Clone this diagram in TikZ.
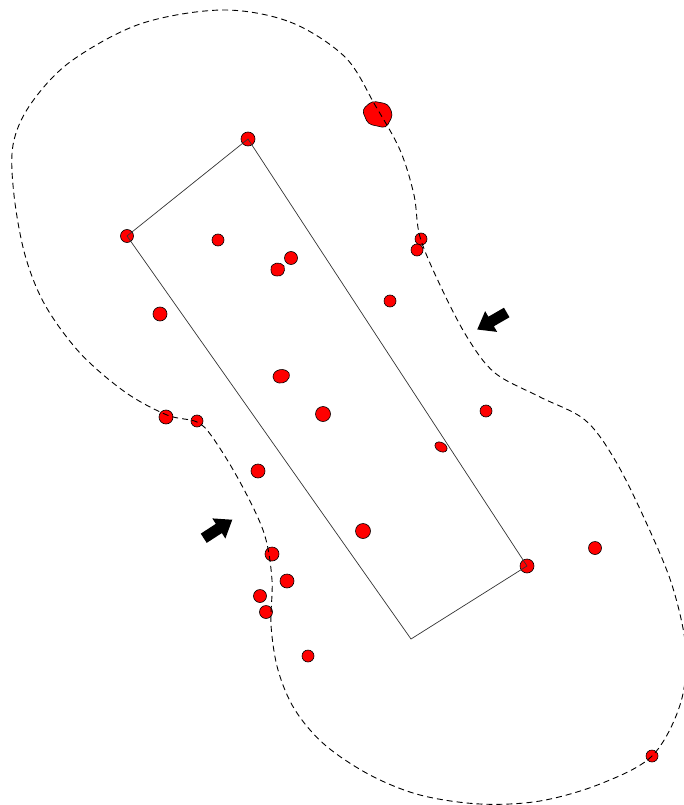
\documentclass[tikz,border=0pt]{standalone}
\begin{document}
\begin{tikzpicture}[x=1pt,y=-1pt,
  reddot/.style={circle,fill=red,draw=black,line width=0.6pt,inner sep=0pt,minimum size=#1},
  reddot/.default=12pt,
  blob/.style={fill=red,draw=black,line width=0.6pt},
  rectline/.style={draw=black!80,line width=0.7pt},
  hull/.style={draw=black,line width=0.9pt,dash pattern=on 6pt off 4pt},
  blockarrow/.style={fill=black}]
\useasboundingbox (0,0) rectangle (684,805);
\clip (0,0) rectangle (684,805);
% dots
\node[reddot=14pt] (c1) at (248,139) {};
\node[reddot=13pt] (c2) at (127,236) {};
\node[reddot=14pt] (c3) at (527,566) {};
\coordinate (c4) at (411,639);
\node[reddot=12pt] (d1) at (218,240) {};
\node[reddot=13pt] (d2) at (291,258) {};
\node[reddot=12pt] (d3) at (390,301) {};
\node[reddot=14pt] (d4) at (160,314) {};
\node[reddot=15pt] (d5) at (323,414) {};
\node[reddot=14pt] (d6) at (166,417) {};
\node[reddot=12pt] (d7) at (197,421) {};
\node[reddot=12pt] (d8) at (421,239) {};
\node[reddot=12pt] (d9) at (417,250) {};
\node[reddot=12pt] (d10) at (486,411) {};
\node[reddot=14pt] (d11) at (258,471) {};
\node[reddot=15pt] (d12) at (363,531) {};
\node[reddot=13pt] (d13) at (595,548) {};
\node[reddot=14pt] (d14) at (272,554) {};
\node[reddot=14pt] (d15) at (287,581) {};
\node[reddot=13pt] (d16) at (260,596) {};
\node[reddot=13pt] (d17) at (266,612) {};
\node[reddot=12pt] (d18) at (308,656) {};
\node[reddot=12pt] (d19) at (652,756) {};
% irregular blobs
\draw[blob,rounded corners=4pt] (372,101) -- (388,104) -- (393,115) -- (386,128) -- (368,124) -- (362,110) -- cycle;
\draw[blob] (271,270) .. controls (270,262) and (281,261) .. (284,266) .. controls (286,272) and (282,277) .. (277,276) .. controls (273,276) and (271,274) .. (271,270) -- cycle;
\draw[blob] (273,377) .. controls (273,369) and (285,367) .. (289,373) .. controls (291,380) and (284,384) .. (279,383) .. controls (275,382) and (273,380) .. (273,377) -- cycle;
\draw[blob,rotate around={-30:(441,447)}] (441,447) ellipse [x radius=6.5pt, y radius=4.5pt];
% rectangle
\draw[rectline] (c2.center) -- (c1.center) -- (c3.center) -- (c4) -- cycle;
% dashed outline
\draw[hull] plot[smooth cycle,tension=0.55] coordinates {
(222,10) (290,22) (345,57) (375,105) (400,150) (414,195) (420,237)
(440,285) (467,337) (495,373) (540,397) (585,420) (615,460)
(645,520) (672,585) (686,650) (680,705) (652,756)
(600,784) (540,801) (480,804) (420,795) (370,775) (325,745)
(295,710) (278,670) (271,625) (272,580) (264,533) 
(240,482) (213,438) (197,422) (167,415) (125,392) (80,353)
(45,305) (25,255) (14,195) (13,145) (30,105) (70,62)
(140,24)};
% block arrows
\fill[blockarrow,shift={(492,321)},rotate=210] (-17,-5.5) -- (1,-5.5) -- (1,-12) -- (17,0) -- (1,12) -- (1,5.5) -- (-17,5.5) -- cycle;
\fill[blockarrow,shift={(218,529)},rotate=33] (-17,-5.5) -- (1,-5.5) -- (1,-12) -- (17,0) -- (1,12) -- (1,5.5) -- (-17,5.5) -- cycle;
\end{tikzpicture}
\end{document}
